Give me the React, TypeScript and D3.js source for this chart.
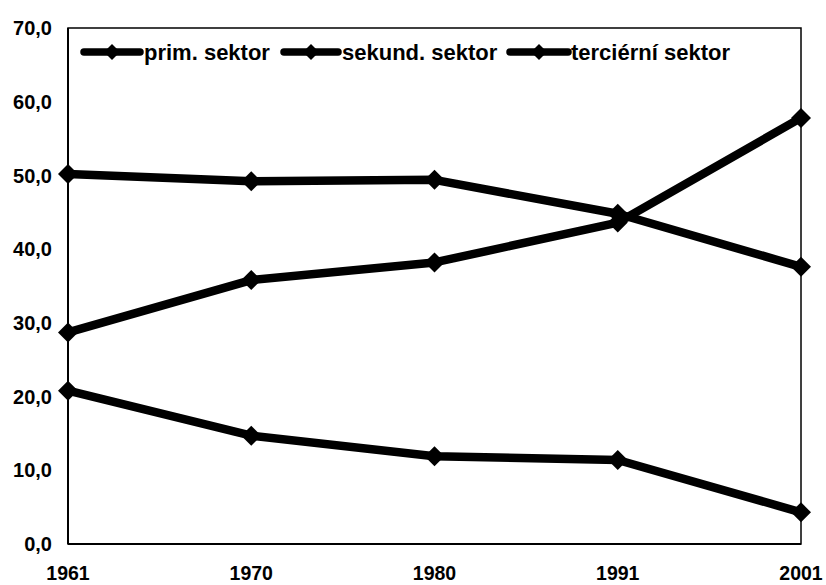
import React from "react";
import * as d3 from "d3";

const years = ["1961", "1970", "1980", "1991", "2001"];
const primSektor = [20.8, 14.7, 11.9, 11.4, 4.3];
const sekundSektor = [28.7, 35.8, 38.2, 43.6, 57.8];
const tercSektor = [50.2, 49.2, 49.4, 44.8, 37.6];
const seriesNames = ["prim. sektor", "sekund. sektor", "terciérní sektor"];
const yTicks = [0, 10, 20, 30, 40, 50, 60, 70];

const W = 826, H = 585;
const left = 68, right = 801, top = 28, bottom = 544;

export default function App() {
  const x = d3.scalePoint<string>().domain(years).range([left, right]);
  const y = d3.scaleLinear().domain([0, 70]).range([bottom, top]);
  const line = d3.line<number>().x((_, i) => x(years[i])!).y((d) => y(d));
  const series = [primSektor, sekundSektor, tercSektor];
  const diamond = (cx: number, cy: number, r: number) =>
    `M${cx},${cy - r}L${cx + r},${cy}L${cx},${cy + r}L${cx - r},${cy}Z`;
  const legendItems = [
    { x1: 84, x2: 140, tx: 144 },
    { x1: 284, x2: 338, tx: 342 },
    { x1: 510, x2: 568, tx: 571 },
  ];
  const fmt = (v: number) => v.toFixed(1).replace(".", ",");
  return (
    <svg width={W} height={H} style={{ position: "absolute", left: 0, top: 0, background: "#fff" }}
      fontFamily="Liberation Sans, Arial, sans-serif" fontWeight="bold">
      <rect x={left} y={top} width={right - left} height={bottom - top} fill="none" stroke="#000" strokeWidth={1.5} />
      <line x1={left} x2={left} y1={top} y2={bottom} stroke="#000" strokeWidth={2} />
      <line x1={left} x2={right} y1={bottom} y2={bottom} stroke="#000" strokeWidth={2} />
      {yTicks.map((t) => (
        <text key={t} x={52} y={y(t)} dy="0.36em" textAnchor="end" fontSize={20}>{fmt(t)}</text>
      ))}
      {years.map((yr) => (
        <text key={yr} x={Math.min(x(yr)!, 802)} y={580} textAnchor="middle" fontSize={19.5}>{yr}</text>
      ))}
      {series.map((s, si) => (
        <g key={si}>
          <path d={line(s)!} fill="none" stroke="#000" strokeWidth={8.5} strokeLinejoin="round" />
          {s.map((v, i) => (
            <path key={i} d={diamond(x(years[i])!, y(v), 10)} fill="#000" />
          ))}
        </g>
      ))}
      {legendItems.map((l, i) => (
        <g key={i}>
          <line x1={l.x1} x2={l.x2} y1={52} y2={52} stroke="#000" strokeWidth={7.5} strokeLinecap="round" />
          <path d={diamond((l.x1 + l.x2) / 2, 52, 8)} fill="#000" />
          <text x={l.tx} y={52} dy="0.36em" fontSize={22}>{seriesNames[i]}</text>
        </g>
      ))}
    </svg>
  );
}
